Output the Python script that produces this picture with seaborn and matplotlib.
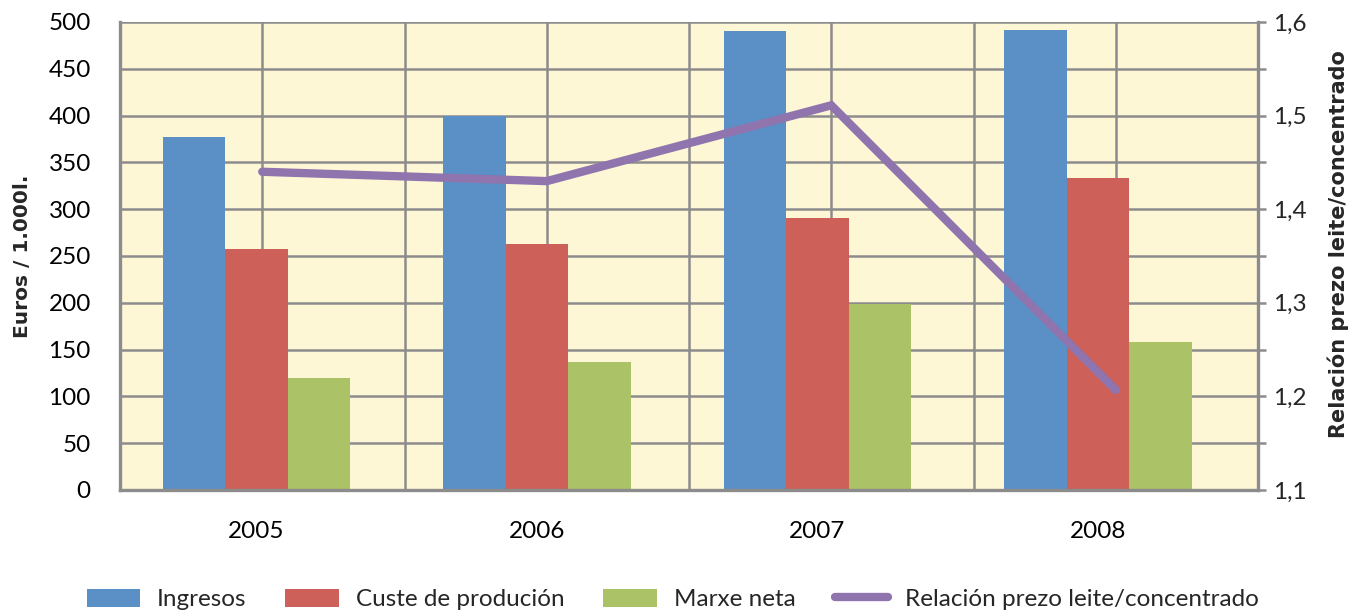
import numpy as np
import pandas as pd
import matplotlib
matplotlib.use("Agg")
import matplotlib.pyplot as plt
import seaborn as sns
from matplotlib.ticker import MultipleLocator, FuncFormatter
from matplotlib.patches import Patch
from matplotlib.lines import Line2D

# ---- data ----
years = ["2005", "2006", "2007", "2008"]
series = ["Ingresos", "Custe de produción", "Marxe neta"]
ingresos = [377, 400, 490, 491]
custe = [258, 263, 291, 333]
marxe = [120, 137, 199, 158]
ratio_name = "Relación prezo leite/concentrado"
ratio = [1.440, 1.430, 1.511, 1.207]

colors = ["#5B90C6", "#CD6058", "#ABC266"]
line_color = "#8F74AE"
grid_color = "#8C8C8C"
bg_color = "#FDF7D6"

df = pd.DataFrame({
    "Ano": years * 3,
    "Serie": [s for s in series for _ in years],
    "Valor": ingresos + custe + marxe,
})

sns.set_theme(style="white")
plt.rcParams["font.family"] = ["Lato", "DejaVu Sans"]

W, H = 1359, 613
fig = plt.figure(figsize=(W / 100, H / 100), dpi=100)
L, R, T, B = 120, 1258, 22, 490
rect = [L / W, 1 - B / H, (R - L) / W, (B - T) / H]
FS = 17.5

# background + grid axis
ax_bg = fig.add_axes(rect, zorder=0)
ax_bg.set_facecolor(bg_color)
ax_bg.set_xlim(-0.5, 3.5)
ax_bg.set_ylim(0, 500)
ax_bg.xaxis.set_major_locator(MultipleLocator(0.5))
ax_bg.yaxis.set_major_locator(MultipleLocator(50))
ax_bg.grid(True, color=grid_color, lw=1.8)
ax_bg.tick_params(length=0, labelbottom=False, labelleft=False)
for s in ax_bg.spines.values():
    s.set_visible(False)

# bars axis
ax = fig.add_axes(rect, zorder=1)
ax.set_facecolor("none")
sns.barplot(data=df, x="Ano", y="Valor", hue="Serie", palette=colors,
            width=0.667, saturation=1, gap=0, ax=ax, legend=False,
            linewidth=0, edgecolor="none")
unit = 280.5
x0 = -(256.5 - L) / unit
ax.set_xlim(x0, x0 + (R - L) / unit)
ax.set_ylim(0, 500)
ax.yaxis.set_major_locator(MultipleLocator(50))
ax.set_xlabel("")
ax.set_ylabel("Euros / 1.000l.", fontsize=14.5, fontweight="bold",
              family="DejaVu Sans", labelpad=12)
ax.tick_params(axis="y", length=0, pad=21, labelsize=FS, colors="black")
ax.tick_params(axis="x", length=0, pad=22, labelsize=FS, colors="black")
for k in ["top", "right"]:
    ax.spines[k].set_visible(False)
for k in ["left", "bottom"]:
    ax.spines[k].set_color(grid_color)
    ax.spines[k].set_linewidth(2.4)

# line axis
ax2 = fig.add_axes(rect, zorder=2)
ax2.set_facecolor("none")
sns.lineplot(x=years, y=ratio, ax=ax2, color=line_color, lw=6.0,
             solid_capstyle="round", solid_joinstyle="miter", label=ratio_name,
             legend=False)
ax2.set_xlim(-0.5, 3.5)
ax2.set_ylim(1.1, 1.6)
ax2.yaxis.tick_right()
ax2.yaxis.set_label_position("right")
ax2.yaxis.set_major_locator(MultipleLocator(0.1))
ax2.yaxis.set_minor_locator(MultipleLocator(0.05))
ax2.yaxis.set_major_formatter(FuncFormatter(lambda v, p: f"{v:.1f}".replace(".", ",")))
ax2.tick_params(axis="y", which="both", direction="out", length=6, width=1.8,
                color=grid_color, pad=5, labelsize=FS)
ax2.tick_params(axis="x", length=0, labelbottom=False)
ax2.set_ylabel(ratio_name, fontsize=15, fontweight="bold", family="DejaVu Sans")
ax2.yaxis.set_label_coords(1.061, 0.526)
for k in ["top", "left", "bottom"]:
    ax2.spines[k].set_visible(False)
ax2.spines["right"].set_color(grid_color)
ax2.spines["right"].set_linewidth(2.4)

# legend
handles = [Patch(facecolor=c, edgecolor="none") for c in colors]
handles.append(Line2D([0], [0], color=line_color, lw=6.0, solid_capstyle="round"))
labels = series + [ratio_name]
fig.legend(handles, labels, loc="lower center", ncol=4, frameon=False,
           fontsize=FS, bbox_to_anchor=(0.495, -0.031), handlelength=2.2,
           handleheight=0.75, handletextpad=0.7, columnspacing=1.6)

fig.savefig("out.png", dpi=100)
